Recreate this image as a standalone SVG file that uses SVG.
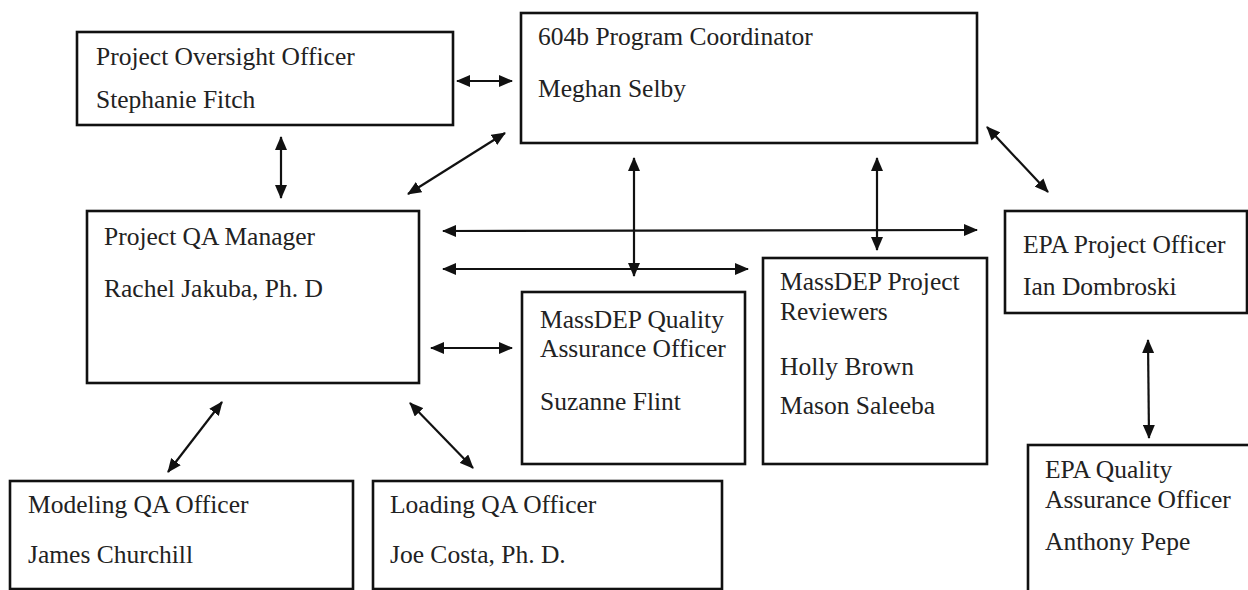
<svg xmlns="http://www.w3.org/2000/svg" width="1248" height="590" viewBox="0 0 1248 590">
<style>
.box{fill:#fff;stroke:#111;stroke-width:2.6}
.t{font-size:25.5px;fill:#222}
.c{stroke:#111;stroke-width:2.2;fill:none;marker-start:url(#ah);marker-end:url(#ah)}
</style>
<defs>
<marker id="ah" viewBox="0 0 14 12" refX="13" refY="6" markerWidth="14" markerHeight="12" markerUnits="userSpaceOnUse" orient="auto-start-reverse">
<path d="M0,0 L14,6 L0,12 Z" fill="#111"/>
</marker>
</defs>
<rect width="1248" height="590" fill="#fff"/>
<g font-family="Liberation Serif, DejaVu Serif, serif">
<g id="oversight">
<rect class="box" x="77" y="32" width="376" height="93"/>
<text class="t" x="96" y="65">Project Oversight Officer</text>
<text class="t" x="96" y="108">Stephanie Fitch</text>
</g>
<g id="coordinator">
<rect class="box" x="521" y="13" width="456" height="130"/>
<text class="t" x="538" y="45">604b Program Coordinator</text>
<text class="t" x="538" y="97">Meghan Selby</text>
</g>
<g id="qamanager">
<rect class="box" x="87" y="211" width="332" height="172"/>
<text class="t" x="104" y="245">Project QA Manager</text>
<text class="t" x="104" y="297">Rachel Jakuba, Ph. D</text>
</g>
<g id="massdepqa">
<rect class="box" x="522" y="292" width="223" height="172"/>
<text class="t" x="540" y="328">MassDEP Quality</text>
<text class="t" x="540" y="357">Assurance Officer</text>
<text class="t" x="540" y="410">Suzanne Flint</text>
</g>
<g id="reviewers">
<rect class="box" x="763" y="258" width="224" height="206"/>
<text class="t" x="780" y="290">MassDEP Project</text>
<text class="t" x="780" y="320">Reviewers</text>
<text class="t" x="780" y="375">Holly Brown</text>
<text class="t" x="780" y="414">Mason Saleeba</text>
</g>
<g id="epapo">
<rect class="box" x="1005" y="211" width="242" height="102"/>
<text class="t" x="1023" y="253">EPA Project Officer</text>
<text class="t" x="1023" y="295">Ian Dombroski</text>
</g>
<g id="epaqa">
<rect class="box" x="1028" y="445" width="230" height="160"/>
<text class="t" x="1045" y="478">EPA Quality</text>
<text class="t" x="1045" y="508">Assurance Officer</text>
<text class="t" x="1045" y="550">Anthony Pepe</text>
</g>
<g id="modeling">
<rect class="box" x="10" y="481" width="343" height="108"/>
<text class="t" x="28" y="513">Modeling QA Officer</text>
<text class="t" x="28" y="563">James Churchill</text>
</g>
<g id="loading">
<rect class="box" x="373" y="481" width="349" height="108"/>
<text class="t" x="390" y="513">Loading QA Officer</text>
<text class="t" x="390" y="563">Joe Costa, Ph. D.</text>
</g>
</g>
<g id="connectors">
<line class="c" x1="457" y1="81" x2="512" y2="81"/>
<line class="c" x1="281" y1="137" x2="281" y2="198"/>
<line class="c" x1="408" y1="194" x2="505" y2="133"/>
<line class="c" x1="634" y1="158" x2="634" y2="276"/>
<line class="c" x1="877" y1="158" x2="877" y2="250"/>
<line class="c" x1="987" y1="127" x2="1048" y2="192"/>
<line class="c" x1="443" y1="231" x2="977" y2="230"/>
<line class="c" x1="443" y1="269" x2="748" y2="269"/>
<line class="c" x1="431" y1="348" x2="512" y2="348"/>
<line class="c" x1="222" y1="402" x2="168" y2="472"/>
<line class="c" x1="410" y1="403" x2="473" y2="468"/>
<line class="c" x1="1148" y1="340" x2="1149" y2="438"/>
</g>
</svg>
